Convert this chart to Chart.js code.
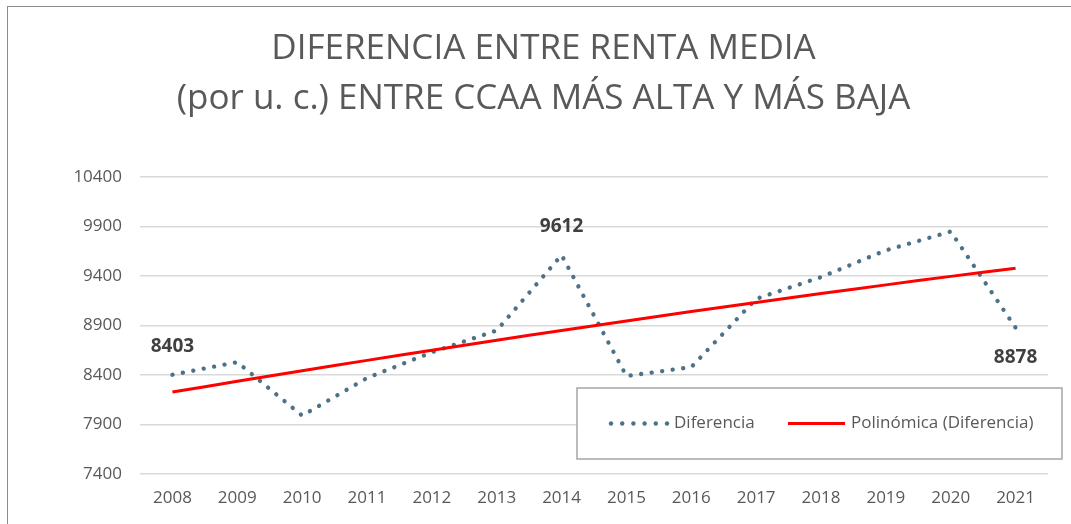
<!DOCTYPE html>
<html>
<head>
<meta charset="utf-8">
<script src="https://cdn.jsdelivr.net/npm/chart.js@4/dist/chart.umd.min.js"></script>
<style>
  html, body { margin: 0; padding: 0; background: #fff; }
  #wrap { position: relative; width: 1071px; height: 524px; }
  #frame { position: absolute; left: 7px; top: 6px; width: 1080px; height: 540px;
           border: 1.5px solid #8c8c8c; box-sizing: border-box; pointer-events: none; }
  canvas { position: absolute; left: 0; top: 0; }
</style>
</head>
<body>
<div id="wrap">
  <canvas id="chart" width="1071" height="524"></canvas>
  <div id="frame"></div>
</div>
<script>
// Data
const years = ['2008', '2009', '2010', '2011', '2012', '2013', '2014',
               '2015', '2016', '2017', '2018', '2019', '2020', '2021'];
const diferencia = [8403, 8530, 7990, 8370, 8630, 8850, 9612,
                    8390, 8480, 9170, 9390, 9660, 9850, 8878];
// trend line (polinómica)
const tendencia = [8228, 8337, 8444, 8548, 8651, 8752, 8850,
                   8946, 9041, 9133, 9223, 9311, 9397, 9480];
const titleLines = ['DIFERENCIA ENTRE RENTA MEDIA', '(por u. c.) ENTRE CCAA MÁS ALTA Y MÁS BAJA'];
const labelledPoints = [0, 6, 13]; // indexes that carry a value label
const yMin = 7400, yMax = 10400, yStep = 500;

const FONT = '"Open Sans", "Noto Sans", sans-serif';
const DOT_COLOR = '#4d7186';
const TEXT_COLOR = '#595959';

// value labels above/below some points
const valueLabels = {
  id: 'valueLabels',
  afterDatasetsDraw(chart) {
    const { ctx } = chart;
    const meta = chart.getDatasetMeta(0);
    ctx.save();
    ctx.font = 'bold 19px ' + FONT;
    ctx.fillStyle = '#404040';
    ctx.textAlign = 'center';
    ctx.textBaseline = 'middle';
    labelledPoints.forEach(i => {
      const pt = meta.data[i];
      const last = i === diferencia.length - 1;
      ctx.fillText(String(diferencia[i]), pt.x, last ? pt.y + 30 : pt.y - 28);
    });
    ctx.restore();
  }
};

// boxed legend inside the plot
const boxLegend = {
  id: 'boxLegend',
  afterDatasetsDraw(chart) {
    const { ctx } = chart;
    const x = 577, y = 388, w = 485, h = 71;
    const cy = y + h / 2;
    ctx.save();
    ctx.fillStyle = '#fff';
    ctx.fillRect(x, y, w, h);
    ctx.strokeStyle = '#a6a6a6';
    ctx.lineWidth = 1.5;
    ctx.strokeRect(x, y, w, h);

    // dotted sample
    ctx.fillStyle = DOT_COLOR;
    for (let k = 0; k < 6; k++) {
      ctx.beginPath();
      ctx.arc(611 + k * 11.2, cy, 2.2, 0, Math.PI * 2);
      ctx.fill();
    }
    // red line sample
    ctx.strokeStyle = '#ff0000';
    ctx.lineWidth = 3;
    ctx.beginPath();
    ctx.moveTo(788, cy);
    ctx.lineTo(845, cy);
    ctx.stroke();

    ctx.font = '17px ' + FONT;
    ctx.fillStyle = TEXT_COLOR;
    ctx.textAlign = 'left';
    ctx.textBaseline = 'middle';
    ctx.fillText(chart.data.datasets[0].label, 674, cy);
    ctx.fillText(chart.data.datasets[1].label, 851, cy);
    ctx.restore();
  }
};

const ctx = document.getElementById('chart').getContext('2d');
const chart = new Chart(ctx, {
  type: 'line',
  data: {
    labels: years,
    datasets: [
      {
        label: 'Diferencia',
        data: diferencia,
        borderColor: DOT_COLOR,
        borderWidth: 4.3,
        borderDash: [0.1, 10.5],
        borderCapStyle: 'round',
        pointRadius: 0,
        tension: 0,
        order: 2
      },
      {
        label: 'Polinómica (Diferencia)',
        data: tendencia,
        borderColor: '#ff0000',
        borderWidth: 3,
        pointRadius: 0,
        tension: 0.4,
        order: 1
      }
    ]
  },
  options: {
    responsive: false,
    animation: false,
    layout: { padding: { left: 39, right: 23, top: 0, bottom: 0 } },
    plugins: {
      legend: { display: false },
      tooltip: { enabled: false },
      title: {
        display: true,
        text: titleLines,
        color: TEXT_COLOR,
        font: { family: FONT, size: 35, weight: 'normal', lineHeight: 1.43 },
        padding: { top: 24, bottom: 53 }
      }
    },
    scales: {
      x: {
        offset: true,
        grid: { display: false, drawTicks: false },
        border: { display: false },
        ticks: { color: TEXT_COLOR, font: { family: FONT, size: 17 }, padding: 14 },
        afterFit(scale) { scale.height = 50; }
      },
      y: {
        min: yMin,
        max: yMax,
        grid: { color: '#d9d9d9', lineWidth: 1.5, drawTicks: false },
        border: { display: false },
        ticks: {
          stepSize: yStep,
          color: TEXT_COLOR,
          font: { family: FONT, size: 17 },
          padding: 18,
          callback: v => String(v)
        },
        afterFit(scale) { scale.width = 101; }
      }
    }
  },
  plugins: [valueLabels, boxLegend]
});
</script>
</body>
</html>
